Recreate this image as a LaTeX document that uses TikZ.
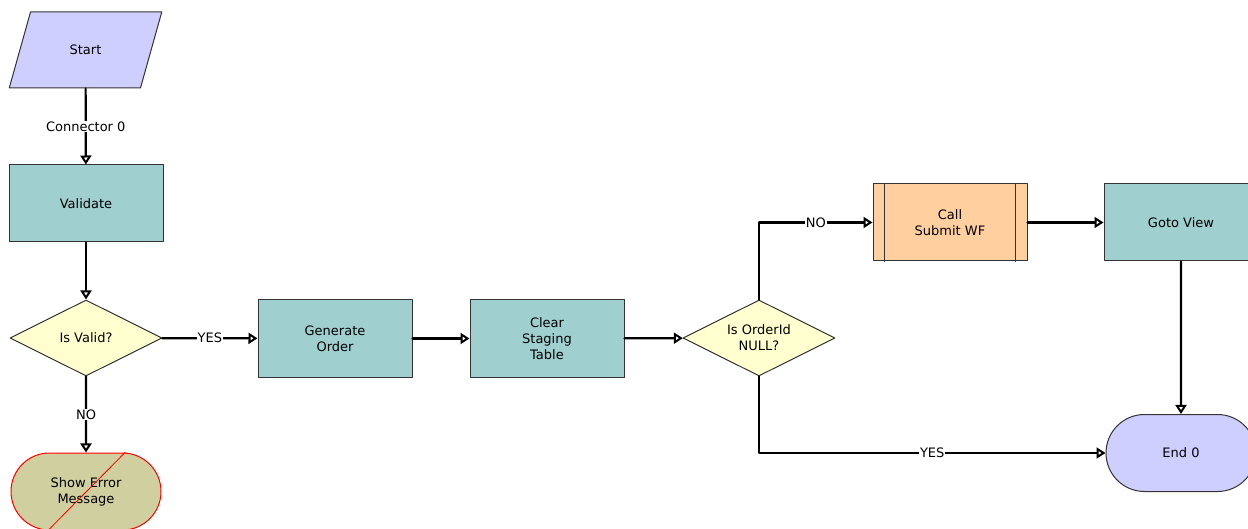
\documentclass[tikz,border=0pt]{standalone}
\usepackage{fontspec}
\setmainfont{DejaVu Sans}
\usetikzlibrary{arrows.meta,shapes.geometric,shapes.misc,positioning}
\definecolor{procfill}{HTML}{9FCFCF}
\definecolor{termfill}{HTML}{CFCFFF}
\definecolor{decfill}{HTML}{FFFFCF}
\definecolor{subfill}{HTML}{FFCF9F}
\definecolor{errfill}{HTML}{CFCF9F}
\definecolor{edgegray}{HTML}{333333}
\tikzset{
  base/.style={draw=edgegray,line width=1pt,font=\fontsize{13}{16}\selectfont,align=center,inner sep=2pt},
  procbox/.style={base,rectangle,fill=procfill,minimum width=154pt,minimum height=77pt},
  decbox/.style={base,diamond,aspect=2,fill=decfill,minimum width=152pt,minimum height=76pt,inner sep=0pt},
  termbox/.style={base,rounded rectangle,fill=termfill,minimum width=154pt,minimum height=77pt},
  conn/.style={line width=2.2pt,-{Triangle[open,length=9pt,width=11pt,line width=2pt]}},
  lbl/.style={fill=white,inner sep=1pt,font=\fontsize{13}{16}\selectfont}
}
\begin{document}
\begin{tikzpicture}[x=1pt,y=-1pt,line cap=round,line join=round]
    \useasboundingbox (0,0) rectangle (1248,529);
    % nodes
    \node[base,trapezium,trapezium left angle=63.4,trapezium right angle=116.6,
      trapezium stretches=true,fill=termfill,minimum width=153pt,minimum height=76pt] (start) at (85.5,50) {Start};
    \node[procbox] (validate) at (86,203.5) {Validate};
    \node[decbox] (isvalid) at (86,338) {Is Valid?};
    \node[base,rounded rectangle,draw=red,fill=errfill,minimum width=154pt,minimum height=77pt] (showerr) at (86,491.5) {Show Error\\Message};
    \node[procbox] (genorder) at (335,338.5) {Generate\\Order};
    \node[procbox] (clearstage) at (547,338.5) {Clear\\Staging\\Table};
    \node[decbox] (isnull) at (759,338) {Is OrderId\\NULL?};
    \node[procbox,fill=subfill] (callwf) at (950,222.5) {Call\\Submit WF};
    \node[procbox] (gotoview) at (1181,222.5) {Goto View};
    \node[termbox] (endnode) at (1181,453) {End 0};
    % sub-process bars and crossed-out step
    \foreach \side/\dx in {west/12, east/-12}{
      \draw[edgegray,line width=1pt] ([xshift=\dx]callwf.north \side) -- ([xshift=\dx]callwf.south \side);
    }
    \draw[red,line width=0.8pt] ([xshift=39pt]showerr.north) -- ([xshift=-38pt]showerr.south);
    % connectors
    \draw[conn] (start) -- node[lbl]{Connector 0} (validate);
    \draw[conn] (validate) -- (isvalid);
    \draw[conn] (isvalid) -- node[lbl]{YES} (genorder);
    \draw[conn] (isvalid) -- node[lbl]{NO} (showerr);
    \draw[conn] (genorder) -- (clearstage);
    \draw[conn] (clearstage) -- (isnull);
    \draw[conn] (isnull.north) |- node[lbl,pos=0.75]{NO} (callwf.west);
    \draw[conn] (isnull.south) |- node[lbl,pos=0.75]{YES} (endnode.west);
    \draw[conn] (callwf) -- (gotoview);
    \draw[conn] (gotoview) -- (endnode);
  \end{tikzpicture}
\end{document}
